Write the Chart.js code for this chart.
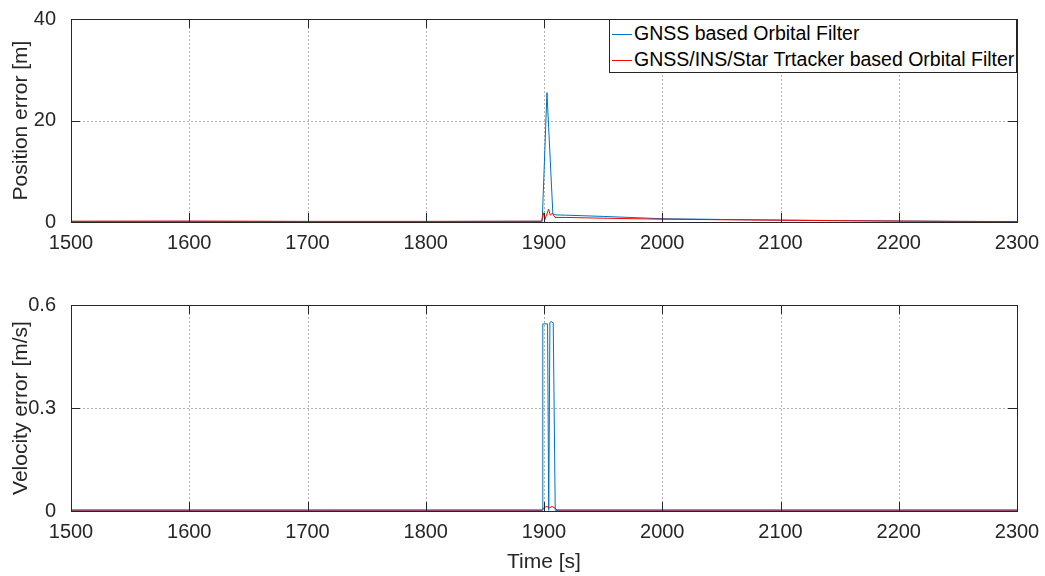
<!DOCTYPE html>
<html>
<head>
<meta charset="utf-8">
<script src="https://cdn.jsdelivr.net/npm/chart.js@4.4.1/dist/chart.umd.min.js"></script>
<style>
    body { margin: 0; background: #fff; }
    #wrap { position: relative; width: 1045px; height: 576px; font-family: 'Liberation Sans', Arial, sans-serif; }
    canvas { position: absolute; left: 0; }
    #posChart { top: 0; }
    #velChart { top: 260px; }
    #legend {
        position: absolute; left: 609px; top: 19px; width: 406px; height: 52px;
        border: 1px solid #262626; background: #fff; font-size: 19.5px; color: #000;
    }
    .row { position: absolute; left: 0; height: 24px; line-height: 24px; white-space: nowrap; }
    .row span.ln { display: inline-block; width: 20px; height: 0; border-top: 1px solid; vertical-align: middle; margin: 0 2px 0 2px; }
</style>
</head>
<body>
<div id="wrap">
    <canvas id="posChart" width="1045" height="260"></canvas>
    <canvas id="velChart" width="1045" height="316"></canvas>
    <div id="legend">
        <div class="row" style="top:1px"><span class="ln" style="border-color:#0072BD"></span>GNSS based Orbital Filter</div>
        <div class="row" style="top:27px"><span class="ln" style="border-color:#FF0000"></span>GNSS/INS/Star Trtacker based Orbital Filter</div>
    </div>
</div>
<script>
// position error [m]
const gnssPosTime = [1500, 1600, 1700, 1800, 1898.5, 1902.5, 1907.5, 1910, 1918, 1950, 2000, 2050, 2100, 2150, 2200, 2250, 2300];
const gnssPos     = [0.12, 0.12, 0.1, 0.1, 0.15, 25.5, 1.6, 1.4, 1.35, 1.1, 0.65, 0.5, 0.38, 0.28, 0.2, 0.12, 0.08];
const fusedPosTime = [1500, 1600, 1700, 1800, 1898, 1899.4, 1900.8, 1903.9, 1905.3, 1907, 1909.3, 1918, 1950, 2000, 2050, 2100, 2150, 2200, 2250, 2300];
const fusedPos     = [0.15, 0.18, 0.12, 0.12, 0.15, 1.8, 0.5, 2.5, 1.35, 1.7, 0.9, 0.9, 0.75, 0.55, 0.45, 0.35, 0.25, 0.18, 0.12, 0.1];

// velocity error [m/s]
const gnssVelTime = [1500, 1600, 1700, 1800, 1898.5, 1899, 1903, 1904, 1905, 1905.8, 1907.8, 1909.5, 2000, 2100, 2200, 2300];
const gnssVel     = [0.002, 0.002, 0.002, 0.002, 0.002, 0.545, 0.545, 0.002, 0.548, 0.552, 0.548, 0.002, 0.002, 0.002, 0.002, 0.002];
const fusedVelTime = [1500, 1600, 1700, 1800, 1898.5, 1900, 1902.5, 1904.5, 1907, 1909.5, 1911, 2000, 2100, 2200, 2300];
const fusedVel     = [0.003, 0.003, 0.003, 0.003, 0.003, 0.01, 0.013, 0.01, 0.013, 0.008, 0.003, 0.003, 0.003, 0.003, 0.003];

const seriesNames = ['GNSS based Orbital Filter', 'GNSS/INS/Star Trtacker based Orbital Filter'];
const seriesColors = ['#0072BD', '#FF0000'];

const AX = '#262626';
const tickFont = { family: "'Liberation Sans', Arial, sans-serif", size: 20 };
const titleFont = { family: "'Liberation Sans', Arial, sans-serif", size: 21 };

const toPoints = (t, v) => t.map((x, i) => ({ x: x, y: v[i] }));

// matlab style grid, box and inward ticks
const matlabAxes = {
    id: 'matlabAxes',
    beforeDatasetsDraw(chart) {
        const { ctx, chartArea: a, scales: { x, y } } = chart;
        ctx.save();
        ctx.strokeStyle = 'rgba(38,38,38,0.35)';
        ctx.lineWidth = 1;
        ctx.setLineDash([2, 2]);
        ctx.beginPath();
        x.ticks.forEach(t => {
            const px = Math.round(x.getPixelForValue(t.value)) + 0.5;
            ctx.moveTo(px, a.top); ctx.lineTo(px, a.bottom);
        });
        y.ticks.forEach(t => {
            const py = Math.round(y.getPixelForValue(t.value)) + 0.5;
            ctx.moveTo(a.left, py); ctx.lineTo(a.right, py);
        });
        ctx.stroke();
        ctx.restore();
    },
    afterDatasetsDraw(chart) {
        const { ctx, chartArea: a, scales: { x, y } } = chart;
        const L = 9;
        ctx.save();
        ctx.strokeStyle = AX;
        ctx.lineWidth = 1;
        ctx.beginPath();
        x.ticks.forEach(t => {
            const px = Math.round(x.getPixelForValue(t.value)) + 0.5;
            ctx.moveTo(px, a.bottom); ctx.lineTo(px, a.bottom - L);
            ctx.moveTo(px, a.top); ctx.lineTo(px, a.top + L);
        });
        y.ticks.forEach(t => {
            const py = Math.round(y.getPixelForValue(t.value)) + 0.5;
            ctx.moveTo(a.left, py); ctx.lineTo(a.left + L, py);
            ctx.moveTo(a.right, py); ctx.lineTo(a.right - L, py);
        });
        ctx.stroke();
        ctx.strokeRect(Math.round(a.left) + 0.5, Math.round(a.top) + 0.5,
            Math.round(a.right - a.left), Math.round(a.bottom - a.top));
        ctx.restore();
    }
};

function makeChart(id, sets, yMax, yStep, yTitle, yFmt, xTitle, topPad, xHeight) {
    return new Chart(document.getElementById(id).getContext('2d'), {
        type: 'line',
        data: {
            datasets: sets.map((s, i) => ({
                label: seriesNames[i],
                data: s,
                borderColor: seriesColors[i],
                borderWidth: 1,
                pointRadius: 0,
                tension: 0,
                order: 1 - i
            }))
        },
        options: {
            responsive: false,
            animation: false,
            layout: { padding: { left: 0, right: 28, top: topPad, bottom: 0 } },
            plugins: { legend: { display: false }, tooltip: { enabled: false } },
            scales: {
                x: {
                    type: 'linear',
                    min: 1500, max: 2300,
                    grid: { display: false },
                    border: { display: false },
                    ticks: { stepSize: 100, color: AX, font: tickFont, padding: 1, maxRotation: 0, callback: v => String(v) },
                    title: { display: !!xTitle, text: xTitle, color: AX, font: titleFont, padding: { top: 0, bottom: 1 } },
                    afterFit: s => { s.height = xHeight; }
                },
                y: {
                    min: 0, max: yMax,
                    grid: { display: false },
                    border: { display: false },
                    ticks: { stepSize: yStep, color: AX, font: tickFont, padding: 7, callback: yFmt },
                    title: { display: true, text: yTitle, color: AX, font: titleFont, padding: { top: 9, bottom: 0 } },
                    afterFit: s => { s.width = 71; }
                }
            }
        },
        plugins: [matlabAxes]
    });
}

makeChart('posChart',
    [toPoints(gnssPosTime, gnssPos), toPoints(fusedPosTime, fusedPos)],
    40, 20, 'Position error [m]', v => String(v), '', 17, 38);

makeChart('velChart',
    [toPoints(gnssVelTime, gnssVel), toPoints(fusedVelTime, fusedVel)],
    0.6, 0.3, 'Velocity error [m/s]', v => (v === 0 ? '0' : v.toFixed(1)), 'Time [s]', 45, 65);
</script>
</body>
</html>
